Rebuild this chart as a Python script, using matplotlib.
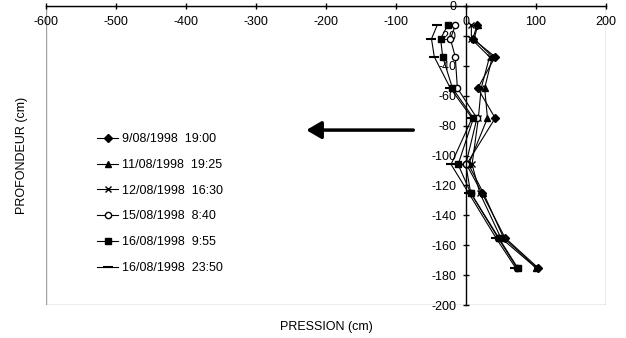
import matplotlib
matplotlib.use("Agg")
import matplotlib.pyplot as plt
from matplotlib.patches import Rectangle

plt.rcParams['font.family'] = ['Liberation Sans', 'DejaVu Sans']
plt.rcParams['font.size'] = 9
plt.rcParams['axes.unicode_minus'] = False

# ---- data ----
depths = [-13, -22, -34, -55, -75, -106, -125, -155, -175]
labels = ["9/08/1998  19:00", "11/08/1998  19:25", "12/08/1998  16:30",
          "15/08/1998  8:40", "16/08/1998  9:55", "16/08/1998  23:50"]
p_0908 = [16, 10, 42, 17, 42, 1, 23, 56, 103]
p_1108 = [17, 12, 38, 27, 31, 4, 25, 54, 101]
p_1208 = [8, 8, 34, 22, 18, 9, 20, 50, 100]
p_1508 = [-15, -22, -15, -12, 16, 0, 7, 46, 73]
p_1608a = [-26, -36, -33, -19, 11, -11, 7, 47, 74]
p_1608b = [-41, -49, -45, -22, 9, -21, 4, 43, 71]
series = [p_0908, p_1108, p_1208, p_1508, p_1608a, p_1608b]
xticks = [-600, -500, -400, -300, -200, -100, 0, 100, 200]
yticks = [0, -20, -40, -60, -80, -100, -120, -140, -160, -180, -200]
arrow_from = (-75, -83)
arrow_to = (-228, -83)

markers = [dict(marker='D', ms=4.5, mfc='black'),
           dict(marker='^', ms=5, mfc='black'),
           dict(marker='x', ms=5, mfc='black'),
           dict(marker='o', ms=4.5, mfc='white'),
           dict(marker='s', ms=4.5, mfc='black'),
           dict(marker='_', ms=7, mfc='black', mew=1.5)]

fig = plt.figure(figsize=(6.26, 3.38), dpi=100)
ax = fig.add_axes([46/626, 1-305/338, 559.7/626, 299/338])

for vals, lab, mk in zip(series, labels, markers):
    ax.plot(vals, depths, color='black', lw=0.8, mec='black', label=lab, **mk)

ax.set_xlim(-600, 200)
ax.set_ylim(-200, 0)
ax.set_xticks(xticks)
ax.set_yticks(yticks)

# gray plot-area border
ax.add_patch(Rectangle((0, 0), 1, 1, transform=ax.transAxes, fill=False,
                       edgecolor='#a0a0a0', lw=1, zorder=0.5))
ax.spines['top'].set_visible(False)
ax.spines['right'].set_visible(False)
ax.spines['bottom'].set_position(('data', 0))
ax.spines['left'].set_position(('data', 0))
for s in ('bottom', 'left'):
    ax.spines[s].set_color('black')
    ax.spines[s].set_linewidth(1)
ax.tick_params(axis='x', direction='inout', length=5, width=1, pad=5, labelsize=9)
ax.tick_params(axis='y', direction='inout', length=5, width=1, pad=4, labelsize=9)

ax.annotate('', xy=arrow_to, xytext=arrow_from,
            arrowprops=dict(arrowstyle='-|>,head_length=0.6,head_width=0.35',
                            lw=2.5, color='black', mutation_scale=15, shrinkA=0, shrinkB=0))

leg = ax.legend(loc='center left', bbox_to_anchor=(97/626, 1-203.5/338),
                bbox_transform=fig.transFigure, frameon=False, borderpad=0,
                borderaxespad=0, handlelength=1.7, handletextpad=0.3,
                labelspacing=1.1, fontsize=9)

fig.text(22/626, 1-155.5/338, "PROFONDEUR (cm)", rotation=90, ha='center', va='center', fontsize=9)
fig.text(326/626, 1-327/338, "PRESSION (cm)", ha='center', va='center', fontsize=9)

fig.savefig("out.png", dpi=100)
